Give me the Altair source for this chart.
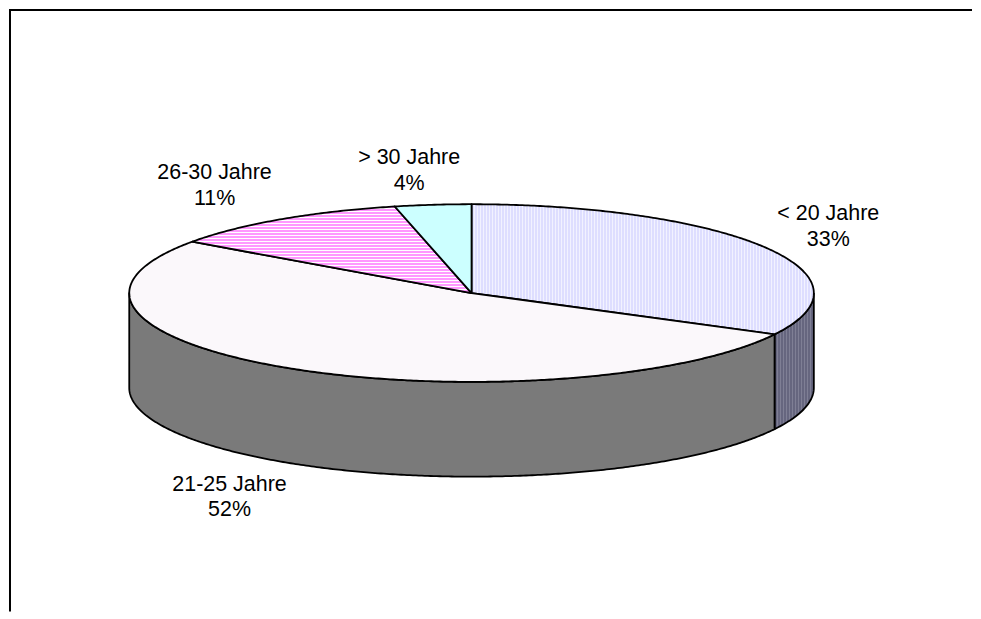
import math
import altair as alt
import pandas as pd

categories = ["< 20 Jahre", "21-25 Jahre", "26-30 Jahre", "> 30 Jahre"]
shares = [32.7, 52.1, 11.6, 3.6]
percent_labels = ["33%", "52%", "11%", "4%"]
label_x = [829, 229, 214, 409]
label_y = [213, 484, 172, 157]

W, H = 965, 603
CX, CY, RX, RY, DEPTH = 463.5, 284, 343, 89, 95
ORIGIN = 8
LINE_GAP = 25.5

X_SCALE = alt.Scale(domain=[0, W], range=[0, W], nice=False, zero=False)
Y_SCALE = alt.Scale(domain=[0, H], range=[0, H], nice=False, zero=False)


def stripes(c1, c2, extent, period, vertical):
    n = max(1, int(extent / period))
    stops = []
    for i in range(n):
        a = i / n
        b = (i + 2 / 3) / n
        c = (i + 1) / n
        stops += [
            {"offset": a, "color": c1},
            {"offset": b, "color": c1},
            {"offset": b, "color": c2},
            {"offset": c, "color": c2},
        ]
    g = {"gradient": "linear", "stops": stops, "x1": 0, "y1": 0}
    g.update({"x2": 1, "y2": 0} if vertical else {"x2": 0, "y2": 1})
    return g


def pt(t, dz=0):
    r = math.radians(t)
    return CX + RX * math.sin(r), CY - RY * math.cos(r) + dz


def arc(t0, t1, dz=0):
    n = max(2, int(abs(t1 - t0) * 2))
    return [pt(t0 + (t1 - t0) * i / n, dz) for i in range(n + 1)]


def line_layer(points, fill):
    closed = points + [points[0]]
    df = pd.DataFrame(
        {"x": [p[0] for p in closed], "y": [p[1] for p in closed], "i": range(len(closed))}
    )
    return (
        alt.Chart(df)
        .mark_line(fill=fill, stroke="black", strokeWidth=1.8, strokeJoin="round", clip=False)
        .encode(
            x=alt.X("x:Q", scale=X_SCALE, axis=None),
            y=alt.Y("y:Q", scale=Y_SCALE, axis=None),
            order="i:Q",
        )
    )


edges = [0.0]
for s in shares:
    edges.append(edges[-1] + s / sum(shares) * 360)

top_fills = [
    stripes("#DEDEFF", "#F2F2FF", 343, 3, True),
    "#FBF8FB",
    stripes("#FF99FF", "#FFFFFF", 87, 3, False),
    "#CCFFFF",
]

layers = []

# side walls (visible front half only)
walls = [
    (90, edges[1], stripes("#66667F", "#7F7F95", 39, 3, True)),
    (edges[1], 270, "#7A7A7A"),
]
for t0, t1, fill in walls:
    layers.append(line_layer(arc(t0, t1) + arc(t1, t0, DEPTH), fill))

# top slices
for i in range(len(shares)):
    layers.append(line_layer([(CX, CY)] + arc(edges[i], edges[i + 1]), top_fills[i]))

# frame
frame_top = pd.DataFrame({"x": [0], "x2": [W], "y": [0.5]})
frame_left = pd.DataFrame({"x": [1], "y": [0], "y2": [H]})
layers.append(
    alt.Chart(frame_top)
    .mark_rule(color="black", strokeWidth=2)
    .encode(x=alt.X("x:Q", scale=X_SCALE, axis=None), x2="x2:Q", y=alt.Y("y:Q", scale=Y_SCALE, axis=None))
)
layers.append(
    alt.Chart(frame_left)
    .mark_rule(color="black", strokeWidth=2)
    .encode(x=alt.X("x:Q", scale=X_SCALE, axis=None), y=alt.Y("y:Q", scale=Y_SCALE, axis=None), y2="y2:Q")
)

# labels
labels = pd.DataFrame(
    {
        "cat": categories,
        "pct": percent_labels,
        "x": [v - ORIGIN for v in label_x],
        "y": [v - ORIGIN for v in label_y],
        "y2": [v - ORIGIN + LINE_GAP for v in label_y],
    }
)
text_style = dict(font="Liberation Sans", fontSize=21.5, color="black", align="center", baseline="middle")
layers.append(
    alt.Chart(labels)
    .mark_text(**text_style)
    .encode(x=alt.X("x:Q", scale=X_SCALE, axis=None), y=alt.Y("y:Q", scale=Y_SCALE, axis=None), text="cat:N")
)
layers.append(
    alt.Chart(labels)
    .mark_text(**text_style)
    .encode(x=alt.X("x:Q", scale=X_SCALE, axis=None), y=alt.Y("y2:Q", scale=Y_SCALE, axis=None), text="pct:N")
)

chart = (
    alt.layer(*layers)
    .properties(width=W, height=H, padding=0, background="white")
    .configure_view(stroke=None)
)
chart.save("out.html", embed_options={"renderer": "svg", "actions": False})
